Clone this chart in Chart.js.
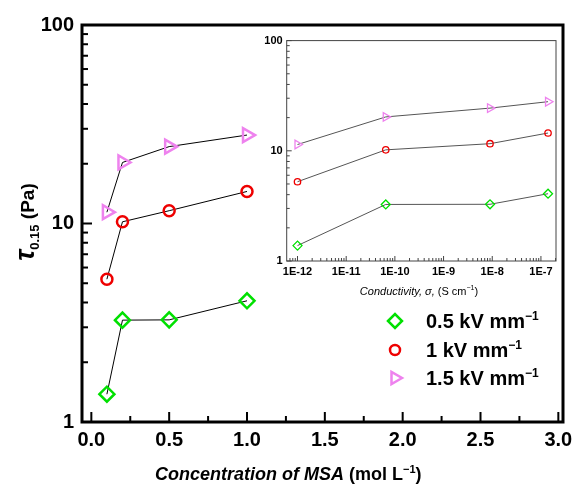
<!DOCTYPE html>
<html>
<head>
<meta charset="utf-8">
<script src="https://cdn.jsdelivr.net/npm/chart.js@4.4.0/dist/chart.umd.min.js"></script>
<style>
  body { margin: 0; background: #fff; }
  #wrap { position: relative; width: 580px; height: 484px; }
  #main { position: absolute; left: 0; top: 0; }
  #inset { position: absolute; left: 258px; top: 30px; }
</style>
</head>
<body>
<div id="wrap">
  <canvas id="main" width="580" height="484" style="width:580px;height:484px"></canvas>
  <canvas id="inset" width="310" height="272" style="width:310px;height:272px"></canvas>
</div>
<script>
// datos
const concentration = [0.1, 0.2, 0.5, 1.0];          // mol L-1
const conductivity = [1.0e-12, 6.5e-11, 9.0e-9, 1.4e-7]; // S cm-1
const tau05 = [1.38, 3.26, 3.27, 4.08];
const tau10 = [5.24, 10.2, 11.6, 14.5];
const tau15 = [11.4, 20.3, 24.4, 27.9];
const fieldLabels = ['0.5 kV mm', '1 kV mm', '1.5 kV mm'];

const xTicksMain = [0, 0.5, 1.0, 1.5, 2.0, 2.5, 3.0];
const xMinorMain = [0.25, 0.75, 1.25, 1.75, 2.25, 2.75];
const yTicks = [1, 10, 100];
const yMinor = [2, 3, 4, 5, 6, 7, 8, 9, 20, 30, 40, 50, 60, 70, 80, 90];
const xTicksInset = [1e-12, 1e-11, 1e-10, 1e-9, 1e-8, 1e-7];

const FONT = 'Arial, "Liberation Sans", sans-serif';
const colors = ['#00e000', '#ee0000', '#ee82ee'];
const styles = [
    { pointStyle: 'rectRot', rotation: 0 },
    { pointStyle: 'circle', rotation: 0 },
    { pointStyle: 'triangle', rotation: 90 },
];

// texto con partes de distinto estilo (subindices, superindices)
function richWidth(ctx, parts) {
    let w = 0;
    parts.forEach(p => { ctx.font = p.font; w += ctx.measureText(p.t).width; });
    return w;
}
function drawRich(ctx, parts, x, y) {
    ctx.textBaseline = 'alphabetic';
    ctx.textAlign = 'left';
    parts.forEach(p => {
        ctx.font = p.font;
        ctx.fillText(p.t, x, y + (p.dy || 0));
        x += ctx.measureText(p.t).width;
    });
}

// marco y marcas hacia dentro
function drawFrame(chart, o) {
    const ctx = chart.ctx;
    const a = chart.chartArea;
    const sx = chart.scales.x;
    const sy = chart.scales.y;
    const w = o.tickWidth;
    ctx.save();
    ctx.fillStyle = o.color;
    o.xMajor.forEach(v => {
        const q = sx.getPixelForValue(v);
        ctx.fillRect(q - w / 2, a.bottom - o.major, w, o.major);
    });
    o.xMinor.forEach(v => {
        const q = sx.getPixelForValue(v);
        if (q > a.left && q < a.right) ctx.fillRect(q - w / 2, a.bottom - o.minor, w, o.minor);
    });
    o.yMajor.forEach(v => {
        const q = sy.getPixelForValue(v);
        ctx.fillRect(a.left, q - w / 2, o.major, w);
    });
    o.yMinor.forEach(v => {
        const q = sy.getPixelForValue(v);
        ctx.fillRect(a.left, q - w / 2, o.minor, w);
    });
    ctx.strokeStyle = o.color;
    ctx.lineWidth = o.frameWidth;
    ctx.strokeRect(a.left, a.top, a.right - a.left, a.bottom - a.top);
    ctx.restore();
}

function makeDatasets(xs, size, lineColor, bw) {
    return [tau05, tau10, tau15].map((vals, i) => ({
        label: fieldLabels[i],
        data: xs.map((x, j) => ({ x: x, y: vals[j] })),
        showLine: true,
        borderColor: lineColor,
        borderWidth: 1,
        pointStyle: styles[i].pointStyle,
        pointRotation: styles[i].rotation,
        pointRadius: size[i],
        pointBorderWidth: bw,
        pointBorderColor: colors[i],
        pointBackgroundColor: 'rgba(0,0,0,0)',
    }));
}

// grafico principal
const mainPlugin = {
    id: 'mainDecor',
    afterDraw(chart) {
        drawFrame(chart, { color: '#000', tickWidth: 2, frameWidth: 3, major: 10, minor: 6, xMajor: xTicksMain, xMinor: xMinorMain, yMajor: yTicks, yMinor: yMinor });
        const ctx = chart.ctx;
        ctx.save();
        ctx.fillStyle = '#000';
        // titulo eje x
        drawRich(ctx, [
            { t: 'Concentration of MSA', font: 'italic bold 18px ' + FONT },
            { t: ' (mol L', font: 'bold 18px ' + FONT },
            { t: '\u22121', font: 'bold 11px ' + FONT, dy: -7 },
            { t: ')', font: 'bold 18px ' + FONT },
        ], 155, 480);
        // titulo eje y
        const yParts = [
            { t: '\u03c4', font: 'italic bold 27px ' + FONT },
            { t: '0.15', font: 'bold 13px ' + FONT, dy: 5 },
            { t: ' (Pa)', font: 'bold 19px ' + FONT },
        ];
        ctx.translate(34, 222);
        ctx.rotate(-Math.PI / 2);
        drawRich(ctx, yParts, -richWidth(ctx, yParts) / 2, 0);
        ctx.setTransform(1, 0, 0, 1, 0, 0);
        // leyenda
        const legY = [321, 350, 378];
        const legR = [7, 5, 7];
        fieldLabels.forEach((lab, i) => {
            ctx.strokeStyle = colors[i];
            ctx.lineWidth = 2.5;
            ctx.fillStyle = 'rgba(0,0,0,0)';
            Chart.helpers.drawPoint(ctx, { pointStyle: styles[i].pointStyle, rotation: styles[i].rotation, radius: legR[i], borderWidth: 2.5 }, 395, legY[i]);
            ctx.fillStyle = '#000';
            drawRich(ctx, [
                { t: lab, font: 'bold 20px ' + FONT },
                { t: '\u22121', font: 'bold 12px ' + FONT, dy: -8 },
            ], 426, legY[i] + 7);
        });
        ctx.restore();
    }
};

new Chart(document.getElementById('main'), {
    type: 'scatter',
    data: { datasets: makeDatasets(concentration, [7.5, 5.5, 8], '#000', 2.5) },
    options: {
        responsive: false,
        animation: false,
        layout: { padding: { left: 0, top: 25, right: 17, bottom: 0 } },
        plugins: { legend: { display: false }, tooltip: { enabled: false } },
        scales: {
            x: {
                type: 'linear', min: -0.06, max: 3.03,
                afterBuildTicks: s => { s.ticks = xTicksMain.map(v => ({ value: v })); },
                afterFit: s => { s.height = 62; },
                grid: { display: false, drawTicks: false },
                border: { display: false },
                ticks: { color: '#000', padding: 6, maxRotation: 0, font: { family: FONT, size: 20, weight: 'bold' }, callback: v => v.toFixed(1) },
            },
            y: {
                type: 'logarithmic', min: 1, max: 100,
                afterBuildTicks: s => { s.ticks = yTicks.map(v => ({ value: v })); },
                afterFit: s => { s.width = 82; },
                grid: { display: false, drawTicks: false },
                border: { display: false },
                ticks: { color: '#000', padding: 8, font: { family: FONT, size: 20, weight: 'bold' }, callback: v => String(v) },
            },
        },
    },
    plugins: [mainPlugin],
});

// grafico pequeño (conductividad)
const insetMinorX = [];
for (let e = -13; e <= -7; e++) for (let k = 2; k <= 9; k++) insetMinorX.push(k * Math.pow(10, e));

const insetPlugin = {
    id: 'insetDecor',
    afterDraw(chart) {
        drawFrame(chart, { color: '#444', tickWidth: 1, frameWidth: 1, major: 5, minor: 3, xMajor: xTicksInset, xMinor: insetMinorX, yMajor: yTicks, yMinor: yMinor });
        const ctx = chart.ctx;
        ctx.save();
        ctx.fillStyle = '#000';
        const parts = [
            { t: 'Conductivity, \u03c3, ', font: 'italic 11px ' + FONT },
            { t: '(S cm', font: '11px ' + FONT },
            { t: '\u22121', font: '7px ' + FONT, dy: -5 },
            { t: ')', font: '11px ' + FONT },
        ];
        drawRich(ctx, parts, 161 - richWidth(ctx, parts) / 2, 265);
        ctx.restore();
    }
};

new Chart(document.getElementById('inset'), {
    type: 'scatter',
    data: { datasets: makeDatasets(conductivity, [4.5, 3.2, 5], '#555', 1.3) },
    options: {
        responsive: false,
        animation: false,
        layout: { padding: { left: 0, top: 10, right: 12, bottom: 0 } },
        plugins: { legend: { display: false }, tooltip: { enabled: false } },
        scales: {
            x: {
                type: 'logarithmic', min: 6.0e-13, max: 2.04e-7,
                afterBuildTicks: s => { s.ticks = xTicksInset.map(v => ({ value: v })); },
                afterFit: s => { s.height = 41; },
                grid: { display: false, drawTicks: false },
                border: { display: false },
                ticks: { color: '#000', padding: 4, maxRotation: 0, font: { family: FONT, size: 11, weight: 'bold' }, callback: v => '1E' + Math.round(Math.log10(v)) },
            },
            y: {
                type: 'logarithmic', min: 1, max: 100,
                afterBuildTicks: s => { s.ticks = yTicks.map(v => ({ value: v })); },
                afterFit: s => { s.width = 28.7; },
                grid: { display: false, drawTicks: false },
                border: { display: false },
                ticks: { color: '#000', padding: 4, font: { family: FONT, size: 11, weight: 'bold' }, callback: v => String(v) },
            },
        },
    },
    plugins: [insetPlugin],
});
</script>
</body>
</html>
